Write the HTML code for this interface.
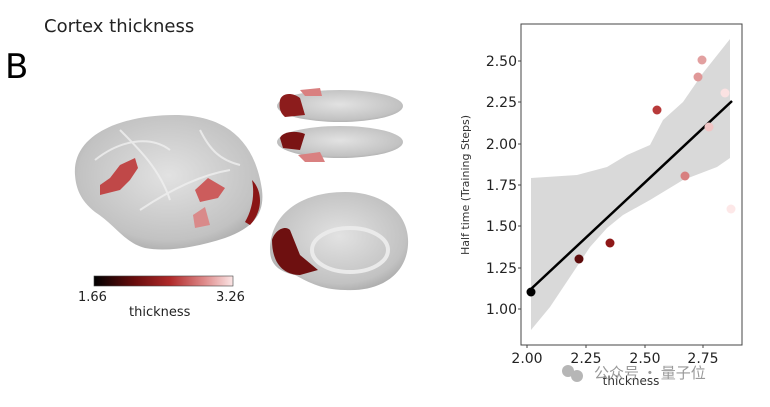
<!DOCTYPE html>
<html><head><style>
body{margin:0;width:770px;height:402px;background:#fff;overflow:hidden;font-family:"Liberation Sans","DejaVu Sans",sans-serif}
</style></head><body>
<svg width="770" height="402" viewBox="0 0 770 402" xmlns="http://www.w3.org/2000/svg" font-family="'DejaVu Sans','Liberation Sans',sans-serif">
<defs>
<radialGradient id="g" cx="50%" cy="45%" r="60%"><stop offset="0" stop-color="#e2e2e2"/><stop offset="0.8" stop-color="#c2c2c2"/><stop offset="1" stop-color="#a8a8a8"/></radialGradient>
<linearGradient id="cb" x1="0" x2="1"><stop offset="0" stop-color="#000"/><stop offset="0.3" stop-color="#6b0d0d"/><stop offset="0.55" stop-color="#b02a2a"/><stop offset="0.8" stop-color="#df8c8c"/><stop offset="1" stop-color="#fbe6e6"/></linearGradient>
</defs>
<text x="44" y="32" font-size="18" fill="#222">Cortex thickness</text>
<text x="5" y="78" font-size="34" fill="#000">B</text>
<!-- lateral brain -->
<path d="M75,175 C72,135 120,115 175,115 C225,115 255,140 262,190 C265,215 252,228 225,238 C195,248 165,252 145,248 C125,243 115,225 95,212 C80,200 76,188 75,175 Z" fill="url(#g)"/>
<g stroke="#f0f0f0" stroke-width="2" fill="none" opacity="0.8">
<path d="M95,160 C120,140 150,135 170,150"/><path d="M140,210 C170,190 200,175 230,170"/><path d="M120,130 C140,150 160,170 170,200"/><path d="M200,130 C210,150 220,160 240,165"/></g>
<path d="M100,185 L110,178 L120,165 L135,158 L138,168 L130,180 L120,190 L100,195Z" fill="#c04848"/>
<path d="M195,190 L208,178 L225,188 L218,198 L200,202Z" fill="#cc5c5c"/>
<path d="M193,215 L205,207 L210,225 L195,228Z" fill="#d98a8a"/>
<path d="M252,180 C262,190 264,210 250,225 L245,222 C252,210 255,195 252,180Z" fill="#8a1515"/>
<!-- top views -->
<ellipse cx="340" cy="106" rx="63" ry="16" fill="url(#g)"/>
<ellipse cx="340" cy="142" rx="63" ry="16" fill="url(#g)"/>
<path d="M280,100 C282,93 292,92 300,98 L305,115 L285,117 C279,112 279,105 280,100Z" fill="#8c1c1c"/>
<path d="M280,138 C282,132 295,130 305,134 L300,150 L283,148Z" fill="#7a1414"/>
<path d="M298,155 L320,152 L325,162 L305,162Z" fill="#d98080"/>
<path d="M300,90 L320,88 L322,96 L305,96Z" fill="#d98080"/>
<!-- medial -->
<path d="M270,250 C270,215 300,192 345,192 C385,192 410,215 408,245 C406,275 380,292 345,290 C320,290 305,280 295,275 C280,272 270,265 270,250Z" fill="url(#g)"/>
<ellipse cx="350" cy="250" rx="38" ry="22" fill="none" stroke="#eaeaea" stroke-width="4"/>
<path d="M272,240 C275,230 285,225 290,230 L300,255 L318,270 L300,275 C285,275 272,265 272,240Z" fill="#6e1010"/>
<!-- colorbar -->
<rect x="94" y="276" width="139" height="10" fill="url(#cb)" stroke="#444" stroke-width="0.6"/>
<text x="78" y="301" font-size="13" fill="#222">1.66</text>
<text x="216" y="301" font-size="13" fill="#222">3.26</text>
<text x="129" y="316" font-size="13" fill="#222">thickness</text>
<!-- scatter -->
<polygon points="531,178 577,175 607,167 627,155 650,145 663,120 683,102 703,73 730,39 730,158 717,167 683,180 650,200 623,215 607,228 590,247 570,277 550,307 531,330" fill="#d9d9d9"/>
<rect x="521" y="24" width="221" height="321" fill="none" stroke="#444" stroke-width="1"/>
<line x1="531" y1="289" x2="732" y2="101" stroke="#000" stroke-width="2.5"/>
<g>
<circle cx="531" cy="292" r="4.5" fill="#000"/>
<circle cx="579" cy="259" r="4.5" fill="#5e0c0c"/>
<circle cx="610" cy="243" r="4.5" fill="#8e1818"/>
<circle cx="657" cy="110" r="4.5" fill="#b83a3a"/>
<circle cx="685" cy="176" r="4.5" fill="#d88080"/>
<circle cx="698" cy="77" r="4.5" fill="#e09898"/>
<circle cx="702" cy="60" r="4.5" fill="#e2a0a0"/>
<circle cx="709" cy="127" r="4.5" fill="#f0c4c4"/>
<circle cx="725" cy="93" r="4.5" fill="#fbe2e2"/>
<circle cx="731" cy="209" r="4.5" fill="#fde8e8"/>
</g>
<g font-size="14" fill="#222" text-anchor="end">
<text x="517" y="66">2.50</text><text x="517" y="107">2.25</text><text x="517" y="149">2.00</text>
<text x="517" y="190">1.75</text><text x="517" y="231">1.50</text><text x="517" y="273">1.25</text><text x="517" y="314">1.00</text>
</g>
<g stroke="#444"><line x1="518" y1="61" x2="521" y2="61"/><line x1="518" y1="102" x2="521" y2="102"/><line x1="518" y1="144" x2="521" y2="144"/><line x1="518" y1="185" x2="521" y2="185"/><line x1="518" y1="226" x2="521" y2="226"/><line x1="518" y1="268" x2="521" y2="268"/><line x1="518" y1="309" x2="521" y2="309"/>
<line x1="527" y1="345" x2="527" y2="348"/><line x1="586" y1="345" x2="586" y2="348"/><line x1="645" y1="345" x2="645" y2="348"/><line x1="703" y1="345" x2="703" y2="348"/></g>
<g font-size="14" fill="#222" text-anchor="middle">
<text x="527" y="363">2.00</text><text x="586" y="363">2.25</text><text x="645" y="363">2.50</text><text x="703" y="363">2.75</text>
</g>
<text x="631" y="385" font-size="12" fill="#333" text-anchor="middle">thickness</text>
<text transform="translate(469,185) rotate(-90)" font-size="11" fill="#333" text-anchor="middle">Half time (Training Steps)</text>
<g fill="#aaa" opacity="0.85"><circle cx="568" cy="371" r="6"/><circle cx="577" cy="376" r="6"/></g>
<text x="594" y="378" font-size="15" fill="#999" font-family="'Noto Sans CJK SC',sans-serif">公众号 · 量子位</text>
</svg>
</body></html>
